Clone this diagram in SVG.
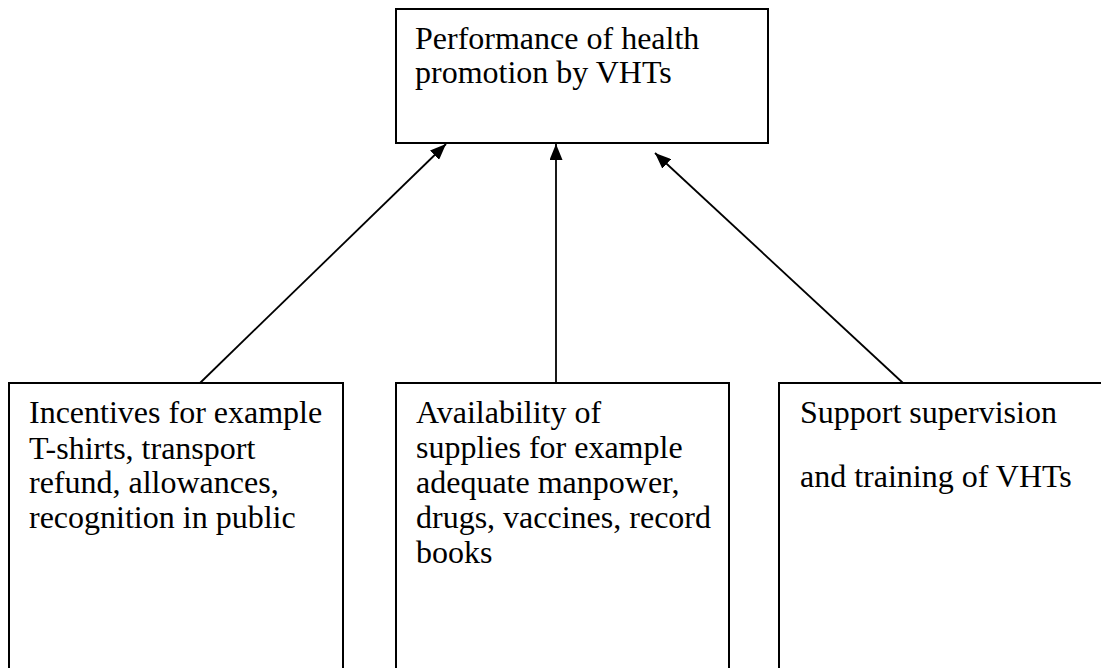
<svg xmlns="http://www.w3.org/2000/svg" width="1101" height="668" viewBox="0 0 1101 668">
<style>
.box{fill:#fff;stroke:#000;stroke-width:2}
.lbl{font-family:"Liberation Serif","Times New Roman",serif;font-size:32px;fill:#000}
.conn{stroke:#000;stroke-width:1.8;fill:none;marker-end:url(#ah)}
</style>
<defs>
<marker id="ah" viewBox="0 0 16 13" refX="16" refY="6.5" markerWidth="16" markerHeight="13" markerUnits="userSpaceOnUse" orient="auto">
<path d="M0,0 L16,6.5 L0,13 z" fill="#000"/>
</marker>
</defs>
<rect width="1101" height="668" fill="#fff"/>
<g id="connectors">
<line class="conn" x1="200" y1="383" x2="446" y2="144"/>
<line class="conn" x1="556" y1="383" x2="556" y2="144"/>
<line class="conn" x1="903" y1="383" x2="655" y2="153"/>
</g>
<g id="top">
<rect class="box" x="396" y="9" width="372" height="134"/>
<text class="lbl" x="415" y="49">Performance of health</text>
<text class="lbl" x="415" y="83">promotion by VHTs</text>
</g>
<g id="incentives">
<rect class="box" x="9" y="383" width="334" height="300"/>
<text class="lbl" x="29" y="423">Incentives for example</text>
<text class="lbl" x="29" y="459">T-shirts, transport</text>
<text class="lbl" x="29" y="493">refund, allowances,</text>
<text class="lbl" x="29" y="528">recognition in public</text>
</g>
<g id="supplies">
<rect class="box" x="396" y="383" width="333" height="300"/>
<text class="lbl" x="416" y="423">Availability of</text>
<text class="lbl" x="416" y="458">supplies for example</text>
<text class="lbl" x="416" y="493">adequate manpower,</text>
<text class="lbl" x="416" y="528">drugs, vaccines, record</text>
<text class="lbl" x="416" y="563">books</text>
</g>
<g id="support">
<rect class="box" x="779" y="383" width="340" height="300"/>
<text class="lbl" x="800" y="423">Support supervision</text>
<text class="lbl" x="800" y="487">and training of VHTs</text>
</g>
</svg>
